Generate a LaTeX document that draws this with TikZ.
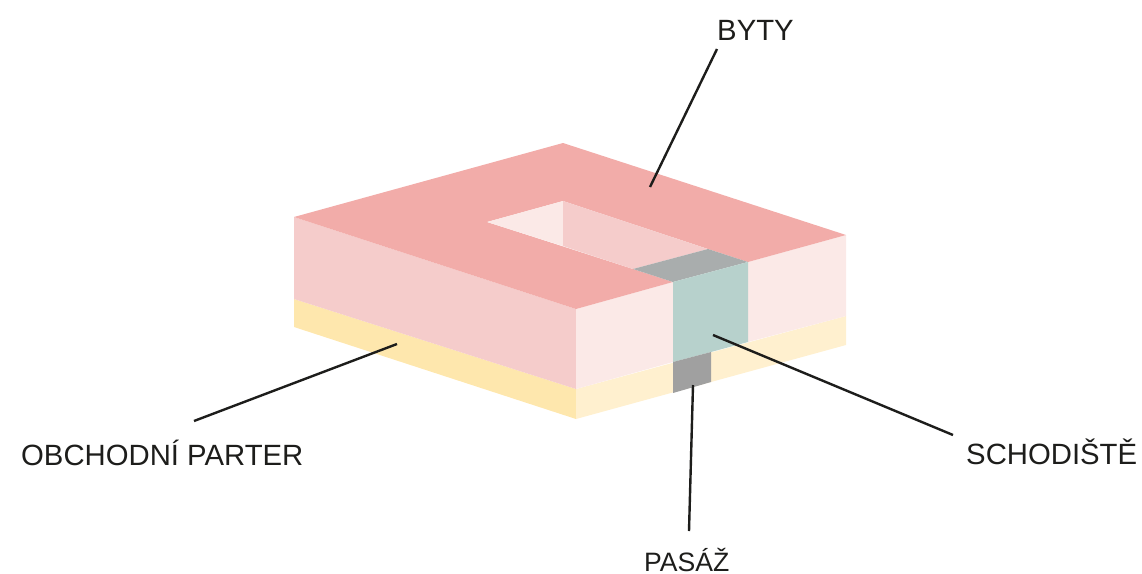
\documentclass[tikz,border=0pt]{standalone}
\usepackage{fontspec}
\setmainfont{Liberation Sans}
\definecolor{roof}{HTML}{F2ACA9}
\definecolor{wallshade}{HTML}{F5CCCB}
\definecolor{walllight}{HTML}{FBE9E7}
\definecolor{shopshade}{HTML}{FEE7AD}
\definecolor{shoplight}{HTML}{FFF0CF}
\definecolor{stairtop}{HTML}{A9ADAD}
\definecolor{stair}{HTML}{B7D1CC}
\definecolor{passage}{HTML}{A0A0A0}
\definecolor{ink}{HTML}{1D1D1B}
\tikzset{
  labelbig/.style={font=\fontsize{29.3}{30}\selectfont,text=ink,inner sep=0pt,anchor=base west},
  labelsmall/.style={font=\fontsize{26.6}{28}\selectfont,text=ink,inner sep=0pt,anchor=base west},
  leader/.style={draw=ink,line width=2.4pt},
}
\begin{document}
\begin{tikzpicture}[x=1pt,y=-1pt]
\useasboundingbox (0,0) rectangle (1142,573);
% ground floor
\fill[shopshade] (294,299) -- (576,389) -- (576,419) -- (294,327) -- cycle;
\fill[shoplight] (576,389) -- (846,316) -- (846,345) -- (576,419) -- cycle;
% upper floors
\fill[wallshade] (294,217) -- (576,309) -- (576,389) -- (294,299) -- cycle;
\fill[walllight] (576,309) -- (673,282) -- (673,362) -- (576,389) -- cycle;
\fill[walllight] (748,262) -- (846,235) -- (846,316) -- (748,342) -- cycle;
% roof with courtyard
\fill[roof] (563,143) -- (846,235) -- (748,262) -- (708,249) -- (563,201) -- (487,222) -- (633,269) -- (673,282) -- (576,309) -- (294,217) -- cycle;
\fill[walllight] (487,222) -- (563,201) -- (563,246) -- cycle;
\fill[wallshade] (563,201) -- (708,249) -- (633,269) -- (563,246) -- cycle;
% staircase and passage
\fill[stairtop] (633,269) -- (708,249) -- (748,262) -- (673,282) -- cycle;
\fill[stair] (673,282) -- (748,262) -- (748,342) -- (711,352) -- (673,362) -- cycle;
\fill[passage] (673,362) -- (711,352) -- (711,382) -- (673,393) -- cycle;
% labels
\node[labelbig] (byty) at (717,40) {BYTY};
\node[labelbig] (parter) at (21,465) {OBCHODNÍ PARTER};
\node[labelbig] (schodiste) at (966,464) {SCHODIŠTĚ};
\node[labelsmall] (pasaz) at (644,571.5) {PASÁŽ};
% leader ends
\coordinate (bytyend) at (650,187);
\coordinate (parterend) at (397,344);
\coordinate (schodisteend) at (713,335);
\coordinate (pasazend) at (693,385);
\coordinate (bytystart) at ([shift={(0,9)}]byty.base west);
\coordinate (parterstart) at ([shift={(173,-44)}]parter.base west);
\coordinate (schodistestart) at ([shift={(-13,-29)}]schodiste.base west);
\coordinate (pasazstart) at ([shift={(45,-40.5)}]pasaz.base west);
\draw[leader] (bytystart) -- (bytyend);
\draw[leader] (parterstart) -- (parterend);
\draw[leader] (schodistestart) -- (schodisteend);
\draw[leader] (pasazstart) -- (pasazend);
\end{tikzpicture}
\end{document}
